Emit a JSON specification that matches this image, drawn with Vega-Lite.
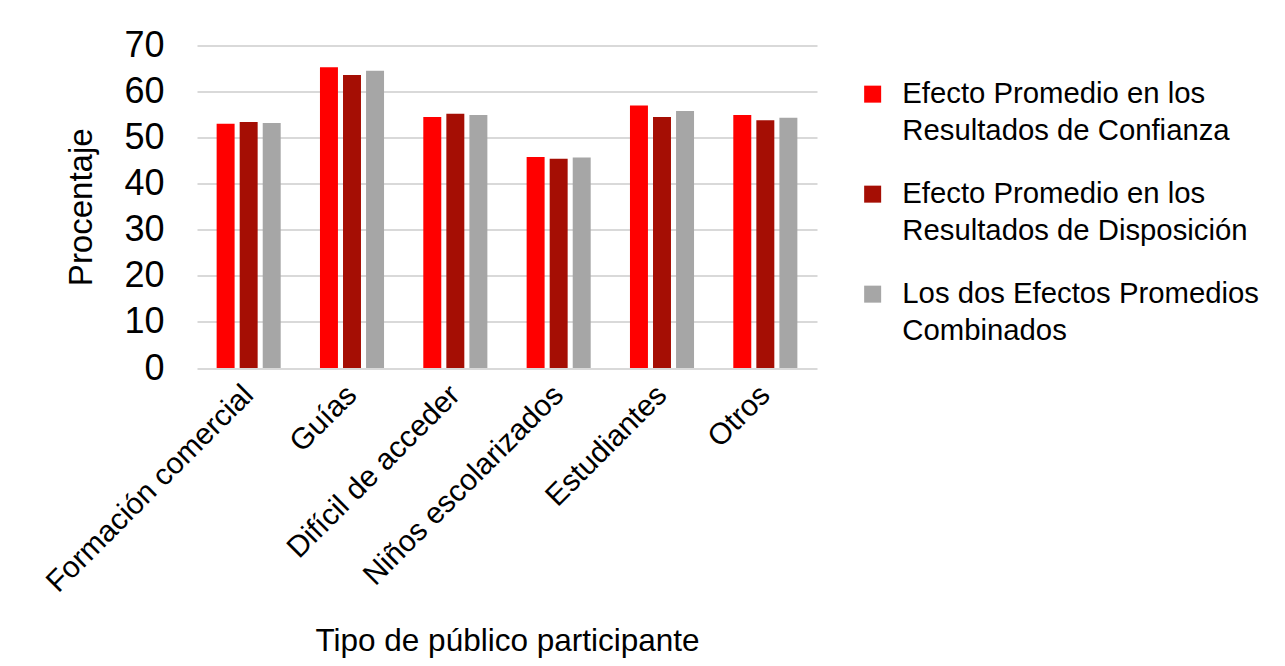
{
  "$schema": "https://vega.github.io/schema/vega-lite/v6.json",
  "autosize": {"type": "none"},
  "padding": {"left": 197, "top": 45.5, "right": 468, "bottom": 298},
  "width": 620,
  "height": 322.5,
  "background": "white",
  "config": {"view": {"stroke": null}},
  "data": {
    "values": [
      {"tipo": "Formación comercial", "serie": "Confianza", "valor": 53.0},
      {"tipo": "Formación comercial", "serie": "Disposición", "valor": 53.4},
      {"tipo": "Formación comercial", "serie": "Combinados", "valor": 53.2},
      {"tipo": "Guías", "serie": "Confianza", "valor": 65.3},
      {"tipo": "Guías", "serie": "Disposición", "valor": 63.6},
      {"tipo": "Guías", "serie": "Combinados", "valor": 64.5},
      {"tipo": "Difícil de acceder", "serie": "Confianza", "valor": 54.5},
      {"tipo": "Difícil de acceder", "serie": "Disposición", "valor": 55.2},
      {"tipo": "Difícil de acceder", "serie": "Combinados", "valor": 54.9},
      {"tipo": "Niños escolarizados", "serie": "Confianza", "valor": 45.8},
      {"tipo": "Niños escolarizados", "serie": "Disposición", "valor": 45.4},
      {"tipo": "Niños escolarizados", "serie": "Combinados", "valor": 45.7},
      {"tipo": "Estudiantes", "serie": "Confianza", "valor": 57.0},
      {"tipo": "Estudiantes", "serie": "Disposición", "valor": 54.5},
      {"tipo": "Estudiantes", "serie": "Combinados", "valor": 55.8},
      {"tipo": "Otros", "serie": "Confianza", "valor": 54.9},
      {"tipo": "Otros", "serie": "Disposición", "valor": 53.8},
      {"tipo": "Otros", "serie": "Combinados", "valor": 54.3}
    ]
  },
  "mark": {"type": "bar"},
  "encoding": {
    "x": {
      "field": "tipo",
      "type": "nominal",
      "sort": null,
      "scale": {"paddingInner": 0.38, "paddingOuter": 0.19},
      "axis": {
        "title": "Tipo de público participante",
        "titleFont": "Liberation Sans",
        "titleFontSize": 31.5,
        "titleFontWeight": "normal",
        "titleColor": "#000000",
        "titleY": 282,
        "titleBaseline": "alphabetic",
        "labelAngle": -45,
        "labelAlign": "right",
        "labelBaseline": "middle",
        "labelFont": "Liberation Sans",
        "labelFontSize": 30,
        "labelColor": "#000000",
        "labelPadding": 22,
        "labelLimit": 0,
        "ticks": false,
        "domain": false
      }
    },
    "xOffset": {
      "field": "serie",
      "sort": ["Confianza", "Disposición", "Combinados"],
      "scale": {"paddingInner": 0.22, "paddingOuter": 0}
    },
    "y": {
      "field": "valor",
      "type": "quantitative",
      "scale": {"domain": [0, 70]},
      "axis": {
        "title": "Procentaje",
        "titleFont": "Liberation Sans",
        "titleFontSize": 33,
        "titleFontWeight": "normal",
        "titleColor": "#000000",
        "titleX": -106,
        "titleBaseline": "alphabetic",
        "values": [0, 10, 20, 30, 40, 50, 60, 70],
        "labelFont": "Liberation Sans",
        "labelFontSize": 36,
        "labelColor": "#000000",
        "labelPadding": 33,
        "ticks": false,
        "domain": false,
        "grid": true,
        "gridColor": "#d9d9d9",
        "gridWidth": 2
      }
    },
    "color": {
      "field": "serie",
      "type": "nominal",
      "sort": ["Confianza", "Disposición", "Combinados"],
      "scale": {
        "domain": ["Confianza", "Disposición", "Combinados"],
        "range": ["#FF0000", "#A50E04", "#A6A6A6"]
      },
      "legend": {
        "title": null,
        "orient": "none",
        "legendX": 661,
        "legendY": 34,
        "padding": 0,
        "symbolType": "square",
        "symbolSize": 289,
        "symbolStrokeWidth": 0,
        "labelFont": "Liberation Sans",
        "labelFontSize": 29.3,
        "labelColor": "#000000",
        "labelLimit": 0,
        "labelOffset": 15,
        "labelBaseline": "middle",
        "rowPadding": 33,
        "labelExpr": "datum.label == 'Confianza' ? ['Efecto Promedio en los', 'Resultados de Confianza'] : datum.label == 'Disposición' ? ['Efecto Promedio en los', 'Resultados de Disposición'] : ['Los dos Efectos Promedios', 'Combinados']",
        "encode": {
          "labels": {"update": {"lineHeight": {"value": 37}}}
        }
      }
    }
  }
}
